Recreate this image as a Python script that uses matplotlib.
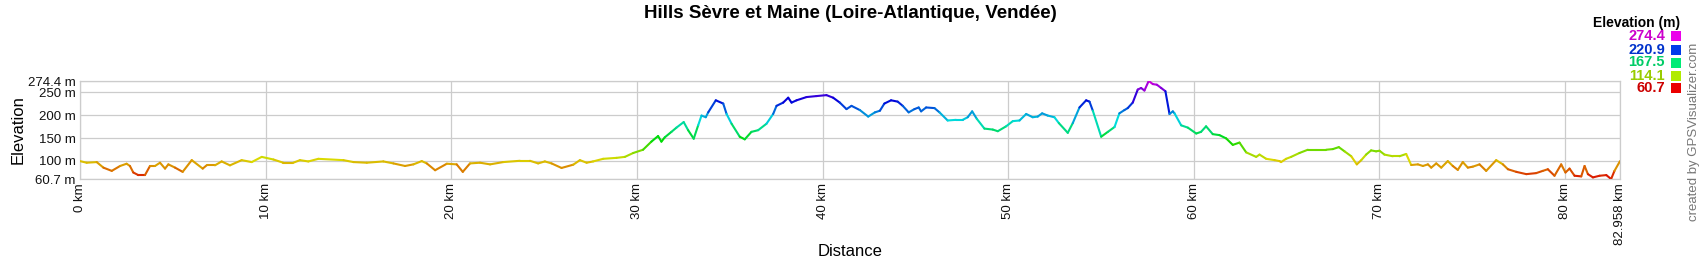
import matplotlib
matplotlib.use("Agg")
import matplotlib.pyplot as plt
import numpy as np
from matplotlib.collections import LineCollection
import colorsys

plt.rcParams['font.family'] = ['Liberation Sans', 'DejaVu Sans']

# ---- data ----
dist_km = [0.00, 0.36, 0.90, 1.26, 1.71, 2.16, 2.51, 2.69, 2.87, 3.14, 3.50, 3.77, 4.04, 4.31, 4.58,
           4.76, 5.12, 5.53, 6.02, 6.61, 6.82, 7.27, 7.63, 8.08, 8.71, 9.25, 9.79, 10.42, 10.95,
           11.49, 11.85, 12.30, 12.84, 14.19, 14.73, 15.45, 16.34, 16.88, 17.51, 17.96, 18.41,
           18.68, 19.13, 19.76, 20.29, 20.62, 21.01, 21.55, 22.09, 22.80, 23.70, 24.24, 24.68,
           25.04, 25.40, 25.94, 26.57, 26.93, 27.29, 27.64, 28.18, 28.90, 29.35, 29.80, 30.33,
           30.78, 31.14, 31.32, 31.50, 31.86, 32.13, 32.52, 32.76, 33.06, 33.30, 33.48, 33.71,
           33.84, 34.25, 34.65, 34.83, 35.10, 35.54, 35.81, 36.17, 36.53, 36.98, 37.34, 37.52,
           37.88, 38.15, 38.33, 38.60, 39.14, 39.67, 40.21, 40.57, 40.93, 41.29, 41.56, 42.01,
           42.46, 42.82, 43.09, 43.33, 43.69, 44.05, 44.32, 44.64, 44.95, 45.18, 45.31, 45.58,
           46.03, 46.30, 46.74, 47.19, 47.55, 47.82, 48.06, 48.31, 48.72, 49.17, 49.44, 49.89,
           50.25, 50.61, 50.97, 51.32, 51.59, 51.83, 52.13, 52.49, 52.73, 53.21, 53.48, 53.84,
           54.20, 54.38, 54.56, 55.01, 55.37, 55.73, 55.99, 56.26, 56.44, 56.71, 56.98, 57.16,
           57.34, 57.57, 57.79, 58.01, 58.24, 58.47, 58.69, 58.87, 58.96, 59.32, 59.68, 60.13,
           60.39, 60.66, 61.02, 61.38, 61.74, 62.10, 62.46, 62.82, 63.36, 63.54, 63.90, 64.35,
           64.62, 64.70, 64.97, 65.24, 65.69, 66.14, 66.59, 67.13, 67.49, 67.81, 68.12, 68.48,
           68.78, 69.02, 69.28, 69.55, 69.82, 70.00, 70.27, 70.72, 71.08, 71.44, 71.71, 72.07,
           72.34, 72.61, 72.79, 73.06, 73.33, 73.68, 73.95, 74.22, 74.49, 74.76, 75.03, 75.39,
           75.75, 76.29, 76.65, 76.92, 77.37, 77.91, 78.44, 78.80, 79.07, 79.43, 79.79, 80.02,
           80.24, 80.51, 80.87, 81.05, 81.23, 81.50, 81.86, 82.22, 82.48, 82.66, 82.958]

elev_m = [99.7, 96.2, 97.6, 85.5, 78.4, 89.1, 94.0, 89.1, 74.9, 69.2, 69.2, 89.1, 89.1, 96.2, 83.4,
          92.6, 85.5, 76.3, 101.8, 83.4, 90.5, 90.5, 99.0, 90.5, 101.8, 97.6, 108.9, 103.2, 96.2,
          96.2, 101.8, 99.0, 104.7, 101.8, 97.6, 96.2, 99.0, 94.7, 89.1, 92.6, 99.7,
          94.7, 79.8, 94.0, 92.6, 76.3, 94.7, 96.2, 92.6, 97.6, 100.4, 100.4, 94.7,
          99.0, 94.7, 84.8, 91.9, 101.8, 96.2, 99.0, 104.7, 106.8, 108.9, 117.4, 124.5,
          142.2, 154.3, 142.2, 151.5, 163.5, 172.7, 184.8, 167.1, 148.6, 177.7, 199.0, 195.4,
          206.0, 232.3, 225.2, 202.5, 181.2, 152.9, 147.2, 163.5, 167.1, 181.2, 202.5, 220.2,
          227.3, 238.0, 227.3, 232.3, 239.4, 241.5, 243.6, 238.0, 227.3, 213.1, 220.2, 211.0,
          196.8, 206.0, 209.6, 225.2, 232.3, 229.4, 220.2, 206.0, 213.1, 216.7, 208.2, 216.7,
          215.3, 206.0, 188.3, 189.7, 189.7, 195.4, 208.2, 191.9, 170.6, 168.5, 164.9, 175.6,
          186.9, 188.3, 202.5, 195.4, 196.8, 203.9, 199.0, 195.4, 182.6, 161.4, 182.6, 216.7,
          232.3, 229.4, 209.6, 152.9, 163.5, 174.1, 203.9, 211.0, 215.3, 227.3, 255.7, 259.2,
          253.6, 274.4, 267.7, 266.3, 259.2, 252.1, 202.5, 208.2, 203.9, 177.7, 172.7, 159.9,
          163.5, 175.6, 158.5, 156.4, 149.3, 135.1, 140.1, 118.8, 108.9, 113.9, 104.7, 101.8,
          99.7, 97.6, 104.7, 108.9, 117.4, 124.5, 124.5, 124.5, 125.9, 130.2, 121.0, 110.3,
          92.6, 101.8, 113.9, 123.1, 121.0, 122.4, 113.9, 110.3, 110.3, 115.3, 91.2, 92.6,
          89.1, 92.6, 85.5, 94.7, 85.5, 99.7, 89.1, 80.6, 97.6, 85.5, 87.6, 92.6,
          78.4, 101.8, 92.6, 82.0, 76.3, 71.3, 73.5, 78.4, 82.0, 67.8, 92.6, 74.9,
          83.4, 67.8, 66.4, 89.1, 71.3, 64.2, 67.8, 69.2, 60.7, 78.4, 99.7]

y_ticks = [60.7, 100, 150, 200, 250, 274.4]
y_tick_labels = ["60.7 m", "100 m", "150 m", "200 m", "250 m", "274.4 m"]
x_ticks = [0, 10, 20, 30, 40, 50, 60, 70, 80, 82.958]
x_tick_labels = ["0 km", "10 km", "20 km", "30 km", "40 km", "50 km", "60 km", "70 km", "80 km", "82.958 km"]
legend_values = [274.4, 220.9, 167.5, 114.1, 60.7]
legend_labels = ["274.4", "220.9", "167.5", "114.1", "60.7"]

EMIN, EMAX = 60.7, 274.4


def elev_color(e, v=0.86):
    f = (e - EMIN) / (EMAX - EMIN)
    f = min(max(f, 0), 1)
    return colorsys.hsv_to_rgb(f * 300 / 360.0, 1.0, v)


fig = plt.figure(figsize=(17, 2.6), dpi=100)
ax = fig.add_axes([80 / 1700, 1 - 179 / 260, 1540 / 1700, 98 / 260])

x = np.array(dist_km)
y = np.array(elev_m)
pts = np.column_stack([x, y]).reshape(-1, 1, 2)
segs = np.concatenate([pts[:-1], pts[1:]], axis=1)
mids = (y[:-1] + y[1:]) / 2
lc = LineCollection(segs, colors=[elev_color(m) for m in mids], linewidths=1.5,
                    capstyle='round', joinstyle='round', zorder=3)
ax.add_collection(lc)

ax.set_xlim(0, 82.958)
ax.set_ylim(EMIN, EMAX)
ax.set_xticks(x_ticks)
ax.set_xticklabels(x_tick_labels, rotation=90, fontsize=9.5, color='#111111')
ax.set_yticks(y_ticks)
ax.set_yticklabels(y_tick_labels, fontsize=9.5, color='#111111')
ax.tick_params(length=0, pad=3)
ax.grid(True, color='#cccccc', linewidth=0.9)
for s in ax.spines.values():
    s.set_color('#cccccc')
    s.set_linewidth(0.9)

fig.text(18 / 1700, 1 - 130 / 260, "Elevation", rotation=90, ha='center', va='center', fontsize=12)
fig.text(850 / 1700, 1 - 251 / 260, "Distance", ha='center', va='center', fontsize=12)
fig.text(850 / 1700, 1 - 13 / 260, "Hills Sèvre et Maine (Loire-Atlantique, Vendée)",
         ha='center', va='center', fontsize=13.5, fontweight='bold')

# legend
fig.text(1637 / 1700, 1 - 23 / 260, "Elevation (m)", ha='center', va='center',
         fontsize=10, fontweight='bold')
legend_ys = [36, 50, 62.5, 75.5, 88]
for val, lab, ly in zip(legend_values, legend_labels, legend_ys):
    tc = elev_color(val, v=0.80)
    bc = elev_color(val, v=0.92)
    fig.text(1665 / 1700, 1 - ly / 260, lab, ha='right', va='center', fontsize=10.5,
             fontweight='bold', color=tc)
    fig.patches.append(plt.Rectangle((1671 / 1700, 1 - (ly + 5) / 260), 9.5 / 1700, 10 / 260,
                                     transform=fig.transFigure, facecolor=bc, edgecolor='none'))

fig.text(1694 / 1700, 1 - 132 / 260, "created by GPSVisualizer.com", rotation=90,
         ha='center', va='center', fontsize=9.5, color='#777777')

fig.savefig("out.png", dpi=100)
